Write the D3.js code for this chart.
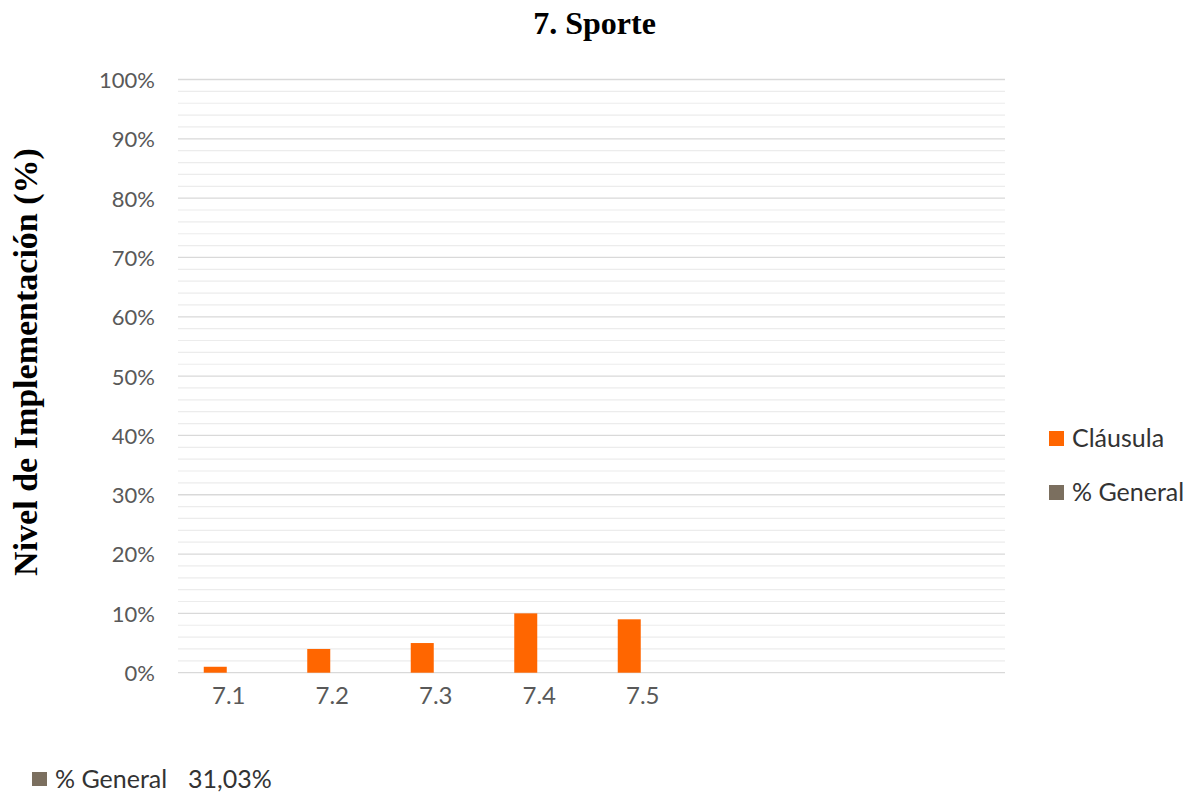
<!DOCTYPE html>
<html>
<head>
<meta charset="utf-8">
<script src="https://cdn.jsdelivr.net/npm/d3@7"></script>
<style>
  html, body { margin: 0; padding: 0; background: #ffffff; }
  svg { display: block; }
</style>
</head>
<body>
<svg id="chart" width="1200" height="795"></svg>
<script>
// ---- data ----
const categories = ["7.1", "7.2", "7.3", "7.4", "7.5", "", "", ""];
const clausula = [0.01, 0.04, 0.05, 0.10, 0.09];
const general = [0, 0, 0, 0, 0];
const seriesNames = ["Cláusula", "% General"];
const seriesColors = ["#FF6600", "#7B6F5F"];
const yMajorTicks = [0, 0.1, 0.2, 0.3, 0.4, 0.5, 0.6, 0.7, 0.8, 0.9, 1.0];
const yMinorTicks = [0.02,0.04,0.06,0.08,0.12,0.14,0.16,0.18,0.22,0.24,0.26,0.28,0.32,0.34,0.36,0.38,0.42,0.44,0.46,0.48,0.52,0.54,0.56,0.58,0.62,0.64,0.66,0.68,0.72,0.74,0.76,0.78,0.82,0.84,0.86,0.88,0.92,0.94,0.96,0.98];
const titleText = "7. Sporte";
const yTitleText = "Nivel de Implementación (%)";
const generalLabel = "% General";
const generalValueText = "31,03%";

// ---- layout ----
const svg = d3.select("#chart");
const gridX0 = 178, gridX1 = 1005;
const yTop = 79.5, yBottom = 672.7;

const x = d3.scaleBand().domain(d3.range(categories.length)).range([175, 1003]).paddingInner(0).paddingOuter(0);
const xs = d3.scaleBand().domain(seriesNames).range([0, x.bandwidth()]).paddingInner(0).paddingOuter(1.25);
const y = d3.scaleLinear().domain([0, 1]).range([yBottom, yTop]);

const sansFont = "Lato, Carlito, 'Open Sans', sans-serif";
const serifFont = "'Liberation Serif', 'Times New Roman', serif";

// gridlines
svg.append("g").selectAll("line.minor").data(yMinorTicks).join("line")
  .attr("x1", gridX0).attr("x2", gridX1)
  .attr("y1", d => y(d)).attr("y2", d => y(d))
  .attr("stroke", "#ececec").attr("stroke-width", 1.2);
svg.append("g").selectAll("line.major").data(yMajorTicks).join("line")
  .attr("x1", gridX0).attr("x2", gridX1)
  .attr("y1", d => y(d)).attr("y2", d => y(d))
  .attr("stroke", "#d9d9d9").attr("stroke-width", 1.3);

// y axis labels
const yAxis = d3.axisLeft(y).tickValues(yMajorTicks).tickFormat(d3.format(".0%")).tickSize(0).tickPadding(0);
const yg = svg.append("g").attr("transform", `translate(155,0)`).call(yAxis);
yg.select(".domain").remove();
yg.selectAll("text").attr("font-family", sansFont).attr("font-size", 22).attr("fill", "#595959").attr("dy", "0.36em");

// x axis labels
const xAxis = d3.axisBottom(x).tickFormat(i => categories[i]).tickSize(0).tickPadding(0);
const xg = svg.append("g").attr("transform", `translate(2,${yBottom})`).call(xAxis);
xg.select(".domain").remove();
xg.selectAll("text").attr("font-family", sansFont).attr("font-size", 24).attr("fill", "#595959").attr("dy", "1.3em");

// bars
const barData = [];
clausula.forEach((v, i) => barData.push({ i, s: seriesNames[0], v }));
general.forEach((v, i) => barData.push({ i, s: seriesNames[1], v }));
svg.append("g").selectAll("rect").data(barData).join("rect")
  .attr("x", d => x(d.i) + xs(d.s))
  .attr("width", xs.bandwidth())
  .attr("y", d => y(d.v))
  .attr("height", d => y(0) - y(d.v))
  .attr("fill", d => seriesColors[seriesNames.indexOf(d.s)]);

// title
svg.append("text").attr("x", 594.5).attr("y", 34).attr("text-anchor", "middle")
  .attr("font-family", serifFont).attr("font-weight", "bold").attr("font-size", 32)
  .attr("fill", "#000").text(titleText);

// y title
svg.append("text").attr("transform", `translate(37,362) rotate(-90)`).attr("text-anchor", "middle")
  .attr("font-family", serifFont).attr("font-weight", "bold").attr("font-size", 34)
  .attr("fill", "#000").text(yTitleText);

// legend
const legend = svg.append("g").attr("transform", "translate(1049,431)");
const li = legend.selectAll("g").data(seriesNames).join("g")
  .attr("transform", (d, k) => `translate(0,${k * 54})`);
li.append("rect").attr("width", 15).attr("height", 15).attr("fill", (d, k) => seriesColors[k]);
li.append("text").attr("x", 23).attr("y", 16).attr("font-family", sansFont).attr("font-size", 25)
  .attr("fill", "#333333").text(d => d);

// bottom general value
const bottom = svg.append("g").attr("transform", "translate(32,772)");
bottom.append("rect").attr("width", 15).attr("height", 14).attr("fill", seriesColors[1]);
bottom.append("text").attr("x", 23).attr("y", 16).attr("font-family", sansFont).attr("font-size", 25)
  .attr("fill", "#333333").text(generalLabel);
bottom.append("text").attr("x", 156).attr("y", 16).attr("font-family", sansFont).attr("font-size", 25)
  .attr("fill", "#333333").text(generalValueText);
</script>
</body>
</html>
